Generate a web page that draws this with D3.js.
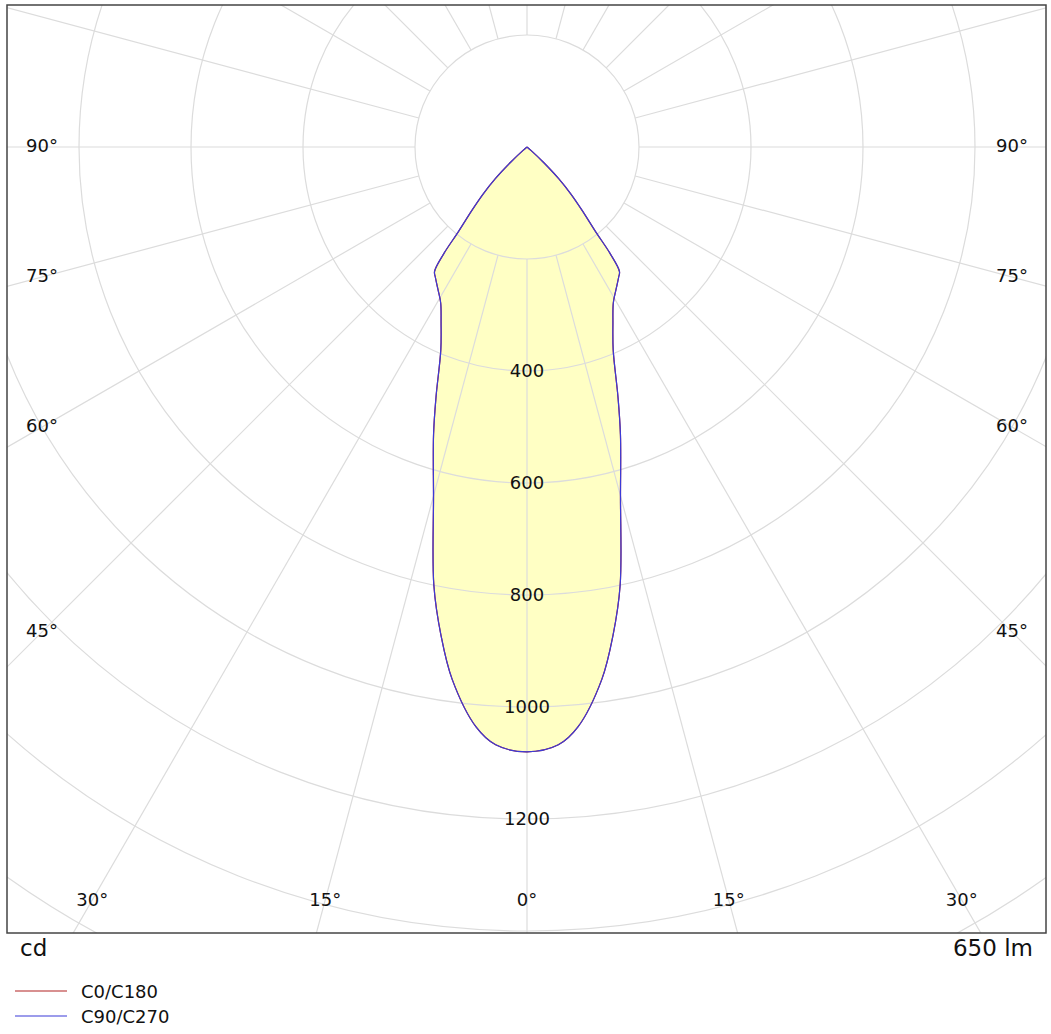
<!DOCTYPE html>
<html><head><meta charset="utf-8">
<script src="https://cdn.jsdelivr.net/npm/d3@7"></script>
<style>body{margin:0;background:#fff}text{font-family:"DejaVu Sans",Verdana,sans-serif}</style>
</head><body>
<svg id="c" width="1051" height="1034"></svg>
<script>
const angles = [0,3,5,8,10,12,15,18,20,23,26,29,32,35,36.6,38,39,41,43,45,47,49,50];
const intensity = [1080,1069,1040,960,885,800,645,540,475,394,350,318,300,285,277,240,195,150,115,80,40,10,0];
const ringValues = [200,400,600,800,1000,1200,1400,1600,1800];
const ringLabels = [400,600,800,1000,1200];
const sideLabels = [90,75,60,45];
const bottomLabels = [30,15,0,15,30];
const bottomAngles = [-30,-15,0,15,30];
const legend = [{name:"C0/C180",color:"#b22222"},{name:"C90/C270",color:"#3b3bd8"}];

const svg = d3.select("#c");
const cx = 527, cy = 147;
const r = d3.scaleLinear().domain([0,1200]).range([0,672]);
const L=7,T=5,R=1046,B=933;
svg.append("defs").append("clipPath").attr("id","cl").append("rect").attr("x",L).attr("y",T).attr("width",R-L).attr("height",B-T);
const g = svg.append("g").attr("clip-path","url(#cl)");

const pts = [];
for (let i=angles.length-1;i>=0;i--) pts.push([-angles[i], intensity[i]]);
for (let i=1;i<angles.length;i++) pts.push([angles[i], intensity[i]]);
const xy = d => { const a = d[0]*Math.PI/180; return [cx + r(d[1])*Math.sin(a), cy + r(d[1])*Math.cos(a)]; };
const line = d3.line().x(d=>xy(d)[0]).y(d=>xy(d)[1]).curve(d3.curveCatmullRom);
g.append("path").attr("d",line(pts)+"Z").attr("fill","#ffffc4").attr("stroke","none");

const gc = "#dcdcdc";
ringValues.forEach(v=>g.append("circle").attr("cx",cx).attr("cy",cy).attr("r",r(v)).attr("fill","none").attr("stroke",gc).attr("stroke-width",1.2));
for (let a=0;a<360;a+=15){
  const t=a*Math.PI/180;
  g.append("line").attr("x1",cx+r(200)*Math.sin(t)).attr("y1",cy+r(200)*Math.cos(t))
   .attr("x2",cx+2000*Math.sin(t)).attr("y2",cy+2000*Math.cos(t)).attr("stroke",gc).attr("stroke-width",1.2);
}
g.append("path").attr("d",line(pts)).attr("fill","none").attr("stroke","#b22222").attr("stroke-width",1.2);
g.append("path").attr("d",line(pts)).attr("fill","none").attr("stroke","#3b3bd8").attr("stroke-width",1.2);

svg.append("rect").attr("x",L).attr("y",T).attr("width",R-L).attr("height",B-T).attr("fill","none").attr("stroke","#444").attr("stroke-width",1.5);

const fs=18;
ringLabels.forEach(v=>{
  svg.append("text").attr("x",cx).attr("y",cy+r(v)+6).attr("text-anchor","middle").attr("font-size",fs).attr("fill","#111").text(v);
});
sideLabels.forEach(a=>{
  const t=a*Math.PI/180;
  const dx = cx-42;
  const y = cy + dx/Math.tan(t);
  svg.append("text").attr("x",42).attr("y",y+5).attr("text-anchor","middle").attr("font-size",fs).attr("fill","#111").text(a+"°");
  svg.append("text").attr("x",1012).attr("y",y+5).attr("text-anchor","middle").attr("font-size",fs).attr("fill","#111").text(a+"°");
});
bottomAngles.forEach((a,i)=>{
  const t=a*Math.PI/180;
  const x = cx + (900-cy)*Math.tan(t);
  svg.append("text").attr("x",x).attr("y",906).attr("text-anchor","middle").attr("font-size",fs).attr("fill","#111").text(bottomLabels[i]+"°");
});
svg.append("text").attr("x",20).attr("y",956).attr("font-size",23).attr("fill","#111").text("cd");
svg.append("text").attr("x",1033).attr("y",956).attr("text-anchor","end").attr("font-size",23).attr("fill","#111").text("650 lm");
legend.forEach((d,i)=>{
  const y=991+i*25;
  svg.append("line").attr("x1",15).attr("x2",67).attr("y1",y).attr("y2",y).attr("stroke",d.color).attr("stroke-width",1.2);
  svg.append("text").attr("x",81).attr("y",y+7).attr("font-size",18).attr("fill","#111").text(d.name);
});
</script></body></html>
